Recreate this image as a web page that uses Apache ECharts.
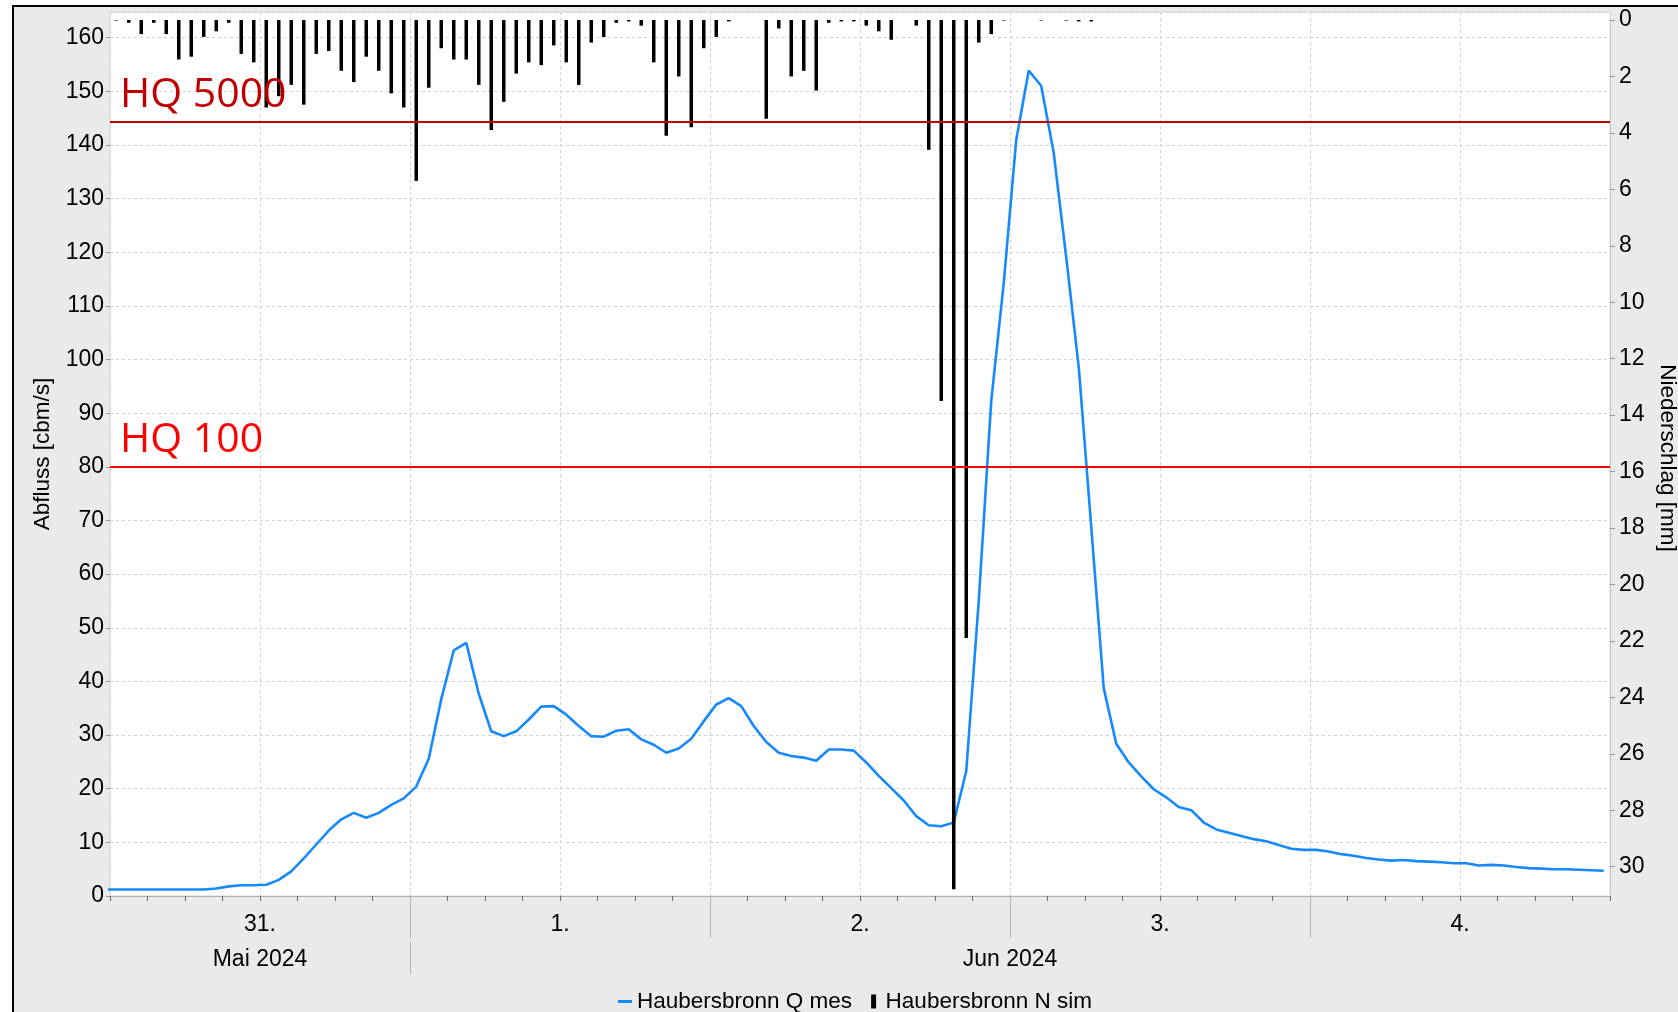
<!DOCTYPE html>
<html><head><meta charset="utf-8">
<script src="https://cdn.jsdelivr.net/npm/echarts@6/dist/echarts.min.js"></script>
<style>html,body{margin:0;padding:0;background:#fff}#c{width:1678px;height:1012px}</style>
</head><body><div id="c"></div>
<script>
// Hourly values from 31.05.2024 00:00; value k belongs to hour [k, k+1) and is drawn at its midpoint
const qMes = [
  1.2,1.2,1.2,1.2,1.2,1.2,1.2,1.2,1.4,1.8,
  2.0,2.0,2.1,3.0,4.6,7.0,9.6,12.2,14.3,15.5,
  14.6,15.5,17.0,18.2,20.4,25.6,36.7,45.8,47.2,37.7,
  30.7,29.8,30.7,32.9,35.3,35.4,33.8,31.7,29.8,29.7,
  30.8,31.1,29.2,28.2,26.7,27.5,29.3,32.6,35.7,36.9,
  35.4,31.7,28.7,26.7,26.1,25.8,25.2,27.3,27.3,27.1,
  24.9,22.4,20.1,17.8,14.9,13.2,13.0,13.7,23.3,55.0,
  92.3,114.3,141.0,153.9,151.0,138.5,119.0,98.6,68.8,38.7,
  28.4,24.9,22.3,19.9,18.4,16.6,16.0,13.7,12.4,11.8,
  11.2,10.6,10.2,9.5,8.8,8.6,8.6,8.3,7.8,7.5,
  7.1,6.8,6.6,6.7,6.5,6.4,6.3,6.1,6.1,5.7,
  5.8,5.7,5.4,5.2,5.1,5.0,5.0,4.9,4.8,4.7
];
const qBeforeStart = 1.2; // hour before the window (line enters at left edge)
const nSim = [
  0.02,0.1,0.5,0.1,0.5,1.4,1.3,0.6,0.4,0.1,
  1.2,1.5,3.1,2.7,2.3,3.0,1.2,1.1,1.8,2.2,
  1.3,1.8,2.6,3.1,5.7,2.4,1.0,1.4,1.4,2.3,
  3.9,2.9,1.9,1.5,1.6,0.9,1.5,2.3,0.8,0.6,
  0.1,0.05,0.2,1.5,4.1,2.0,3.8,1.0,0.6,0.05,
  0,0,3.5,0.3,2.0,1.8,2.5,0.1,0.05,0.05,
  0.2,0.4,0.7,0,0.2,4.6,13.5,30.8,21.9,0.8,
  0.5,0.02,0,0,0.02,0,0.02,0.05,0.05,0,
  0,0,0,0,0,0,0,0,0,0,
  0,0,0,0,0,0,0,0,0,0,
  0,0,0,0,0,0,0,0,0,0,
  0,0,0,0,0,0,0,0,0,0
];
const dayLabelHours = [12, 36, 60, 84, 108];
const dayLabels = ['31.', '1.', '2.', '3.', '4.'];
const daySeparatorHours = [24, 48, 72, 96];
const monthLabelHours = [12, 72];
const monthLabels = ['Mai 2024', 'Jun 2024'];
const monthSeparatorHours = [24];
const hqLevels = [144.3, 80];
const hqNames = ['HQ 5000', 'HQ 100'];
const hqColors = ['#c00000', '#ff0000'];
const seriesNames = ['Haubersbronn Q mes', 'Haubersbronn N sim'];

const FONT = 'Liberation Sans, Arial, sans-serif';
const totalHours = qMes.length;
const hourCategories = nSim.map((_, i) => String(i));
const qData = [[-0.5, qBeforeStart]].concat(qMes.map((v, i) => [i + 0.5, v]));

const chart = echarts.init(document.getElementById('c'), null, {renderer: 'canvas'});
chart.setOption({
  animation: false,
  backgroundColor: '#ffffff',
  graphic: [{
    type: 'rect', z: -10, silent: true,
    shape: {x: 13, y: 6, width: 1720, height: 1100},
    style: {fill: '#eaeaea', stroke: '#000', lineWidth: 2}
  }],
  grid: [
    {left: 110, top: 12, width: 1500, height: 884, show: true, backgroundColor: '#ffffff', borderColor: '#d6d6d6', borderWidth: 1,
      containLabel: false, outerBoundsMode: 'none'},
    {left: 110, top: 20, width: 1500, height: 876, show: false, containLabel: false, outerBoundsMode: 'none'}
  ],
  legend: {
    top: 985, left: 613, itemWidth: 14, itemHeight: 14, itemGap: 19,
    textStyle: {fontFamily: FONT, fontSize: 22.5, color: '#000'},
    data: [
      {name: seriesNames[0], icon: 'path://M0,0H14V3H0Z'},
      {name: seriesNames[1], icon: 'path://M0,0H5V14H0Z'}
    ]
  },
  xAxis: [
    {
      type: 'value', gridIndex: 0, position: 'bottom', min: 0, max: totalHours, interval: 12,
      axisLine: {show: true, onZero: false, lineStyle: {color: '#b0b0b0'}},
      axisTick: {show: true, length: 5, lineStyle: {color: '#666'}},
      minorTick: {show: true, splitNumber: 4, length: 5, lineStyle: {color: '#666'}},
      minorSplitLine: {show: false},
      axisLabel: {formatter: v => { const i = dayLabelHours.indexOf(v); return i >= 0 ? dayLabels[i] : ''; },
        margin: 17, fontFamily: FONT, fontSize: 23, color: '#000'},
      splitLine: {show: true, lineStyle: {color: '#d2d2d2', type: [3, 3]}}
    },
    {
      type: 'category', gridIndex: 1, position: 'bottom', data: hourCategories, boundaryGap: true,
      show: false, axisLine: {onZero: false}
    },
    {
      type: 'value', gridIndex: 0, position: 'bottom', offset: 46, min: 0, max: totalHours,
      axisLine: {show: false, onZero: false},
      axisTick: {show: true, customValues: monthSeparatorHours, length: 32, lineStyle: {color: '#b4b4b4'}},
      axisLabel: {customValues: monthLabelHours, formatter: v => monthLabels[monthLabelHours.indexOf(v)] || '',
        margin: 6, fontFamily: FONT, fontSize: 23, color: '#000'},
      splitLine: {show: false}
    },
    {
      type: 'value', gridIndex: 0, position: 'bottom', offset: 0, min: 0, max: totalHours,
      axisLine: {show: false, onZero: false},
      axisTick: {show: true, customValues: daySeparatorHours, length: 42, lineStyle: {color: '#b4b4b4'}},
      axisLabel: {show: false},
      splitLine: {show: false}
    }
  ],
  yAxis: [
    {
      type: 'value', gridIndex: 0, position: 'left', min: 0, max: 164.8, interval: 10,
      name: 'Abfluss [cbm/s]', nameLocation: 'middle', nameGap: 49,
      nameTextStyle: {fontFamily: FONT, fontSize: 22.5, color: '#000'},
      axisLine: {show: false},
      axisTick: {show: true, length: 4, lineStyle: {color: '#999'}},
      axisLabel: {margin: 6, padding: [4, 0, 0, 0], fontFamily: FONT, fontSize: 23, color: '#000', showMaxLabel: false},
      splitLine: {show: true, lineStyle: {color: '#d2d2d2', type: [3, 3]}}
    },
    {
      type: 'value', gridIndex: 1, position: 'right', inverse: true, min: 0, max: 31.04, interval: 2,
      name: 'Niederschlag [mm]', nameLocation: 'middle', nameRotate: -90, nameGap: 42,
      nameTextStyle: {fontFamily: FONT, fontSize: 22.5, color: '#000'},
      axisLine: {show: true, lineStyle: {color: '#c8c8c8'}},
      axisTick: {show: true, length: 5, lineStyle: {color: '#999'}},
      axisLabel: {margin: 9, padding: [4, 0, 0, 0], fontFamily: FONT, fontSize: 23, color: '#000', showMaxLabel: false},
      splitLine: {show: false}
    }
  ],
  series: [
    {
      name: seriesNames[0], type: 'line', xAxisIndex: 0, yAxisIndex: 0, z: 2,
      data: qData, showSymbol: false, symbol: 'none', color: '#1789ff',
      lineStyle: {width: 2.6, color: '#1789ff'}
    },
    {
      name: seriesNames[1], type: 'bar', xAxisIndex: 1, yAxisIndex: 1, z: 3,
      data: nSim, barWidth: 3.5, color: '#000', itemStyle: {color: '#000'}
    },
    {
      name: 'HQ', type: 'line', xAxisIndex: 0, yAxisIndex: 0, z: 4, data: [],
      markLine: {
        silent: true, symbol: ['none', 'none'],
        data: hqLevels.map((v, i) => ({
          yAxis: v,
          lineStyle: {color: hqColors[i], width: 2, type: 'solid'},
          label: {show: true, position: 'insideStartTop', formatter: hqNames[i], color: hqColors[i],
            fontFamily: 'Open Sans, sans-serif', fontSize: 41, distance: [10, 6]}
        }))
      }
    }
  ]
});
</script></body></html>
